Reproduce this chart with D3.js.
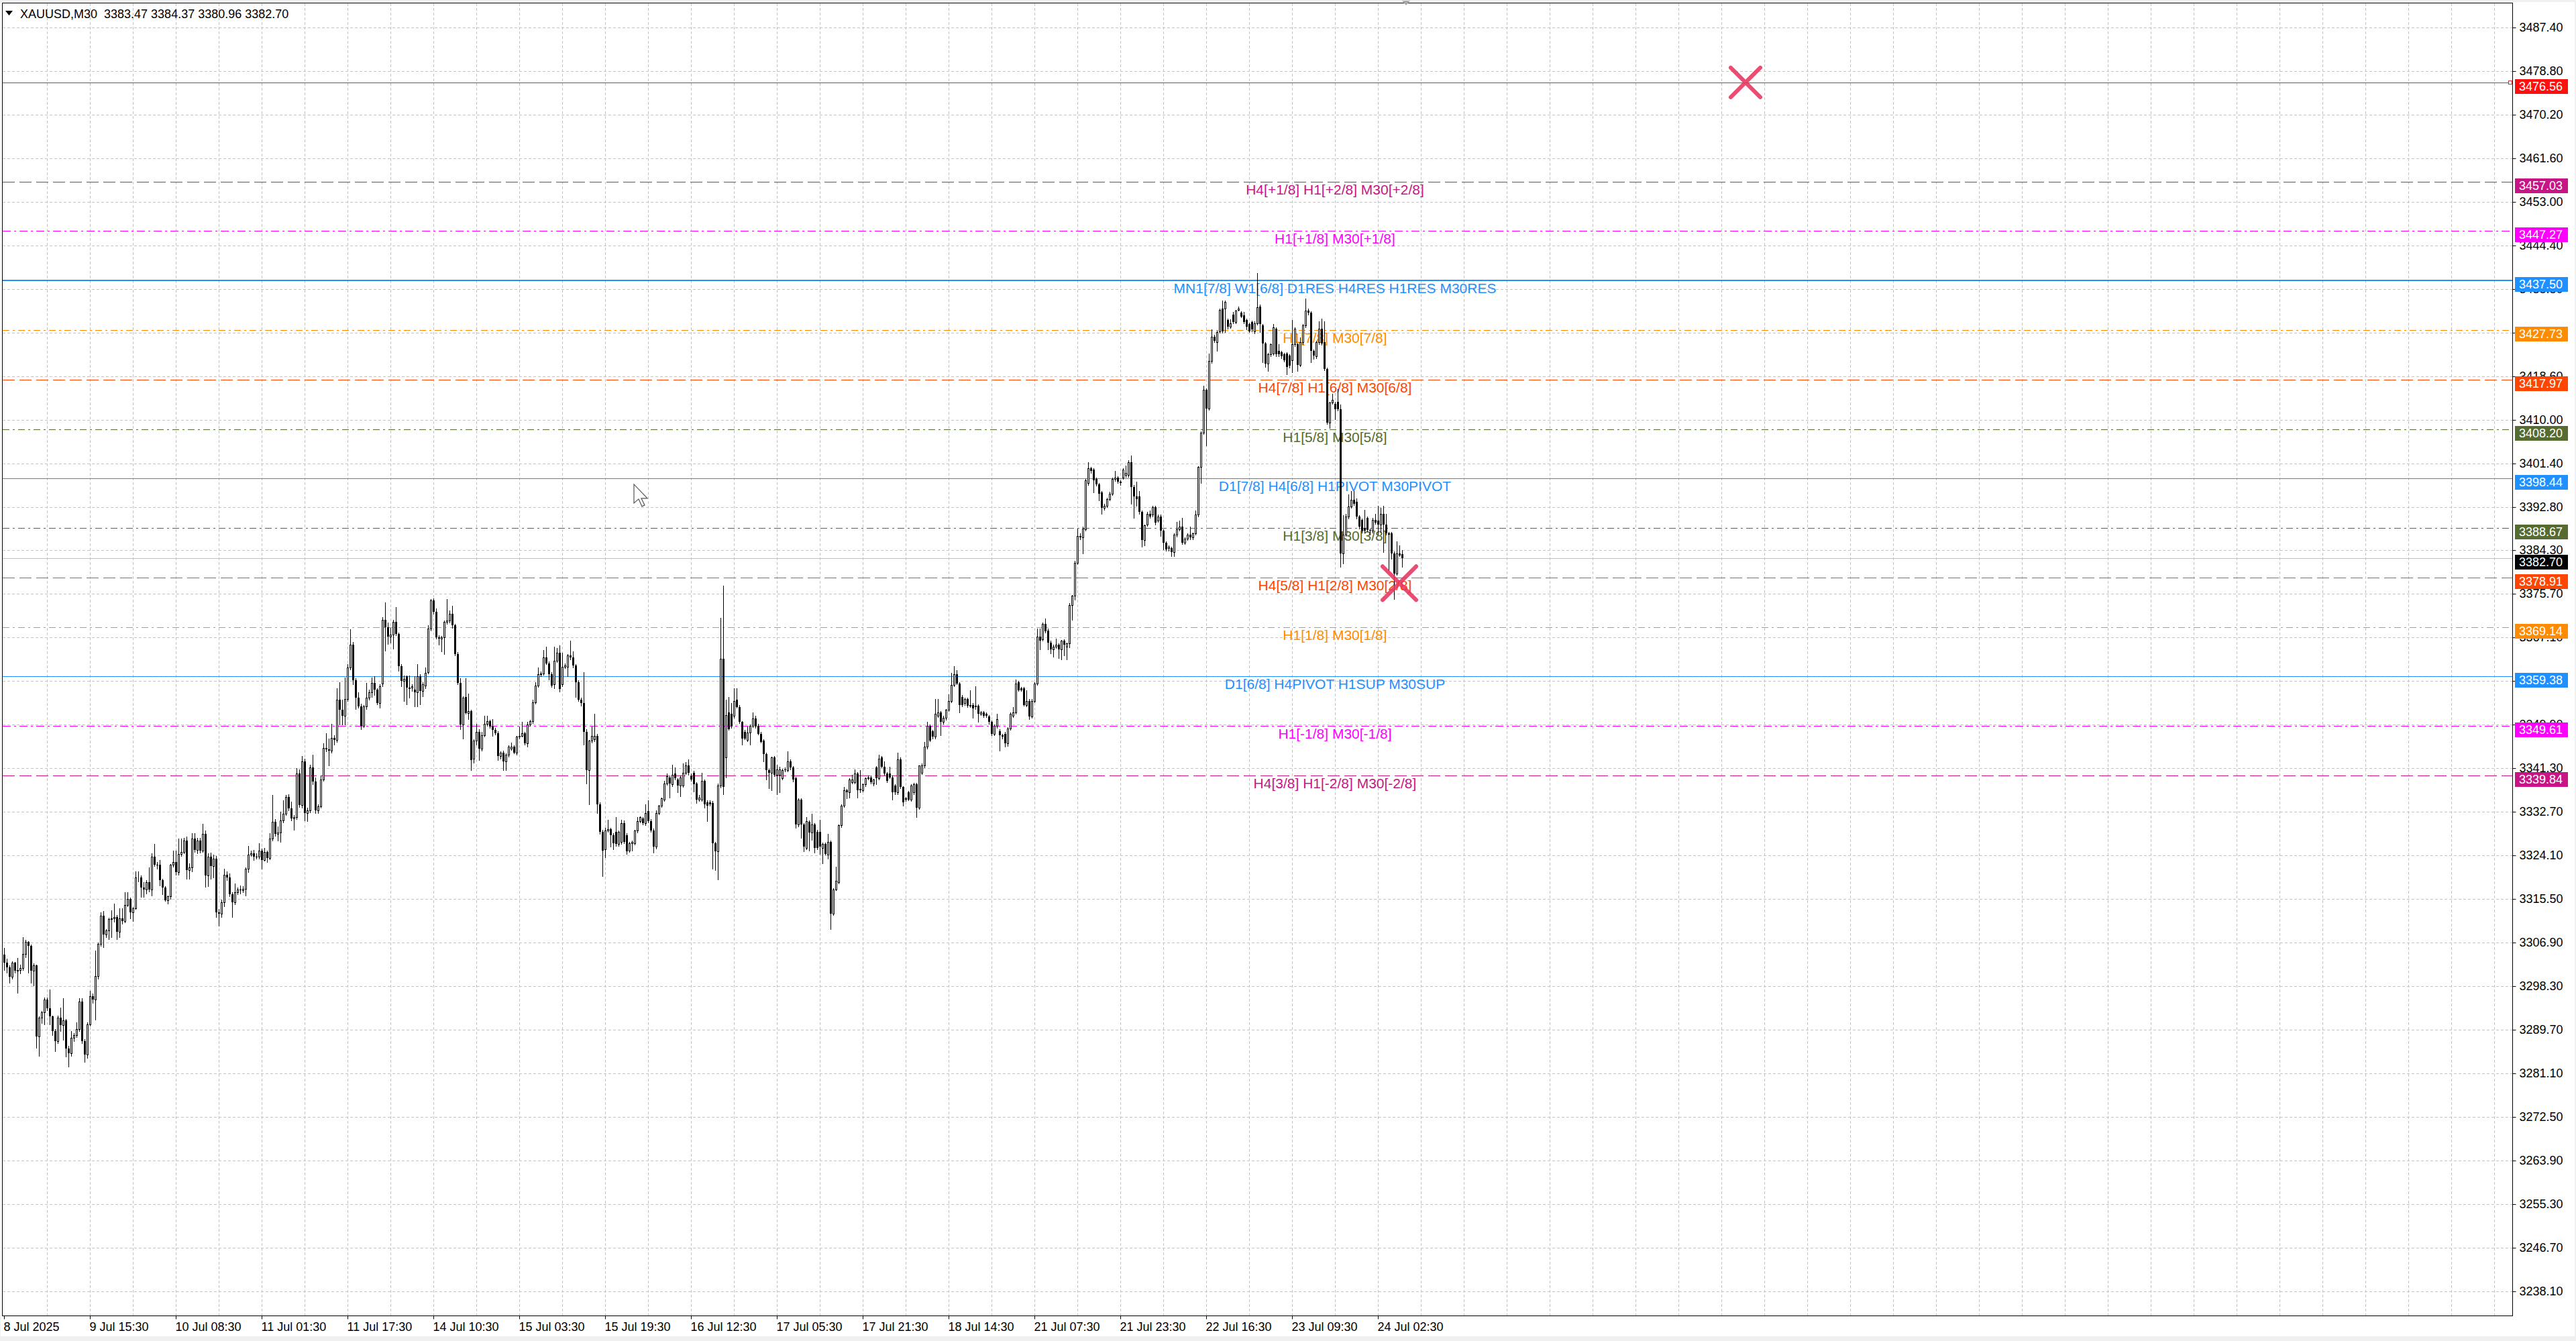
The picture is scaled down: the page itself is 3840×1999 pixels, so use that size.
<!DOCTYPE html>
<html>
<head>
<meta charset="utf-8">
<script src="https://cdn.jsdelivr.net/npm/d3@7"></script>
<style>
body { margin: 0; background: #f0f0f0; overflow: hidden; }
svg { display: block; }
</style>
</head>
<body>
<div id="chart"></div>
<script>
// chart header
let symbolTitle = "XAUUSD,M30  3383.47 3384.37 3380.96 3382.70";

// time axis labels, one every 32 bars (M30, gold has a daily break)
let timeLabels = ["8 Jul 2025", "9 Jul 15:30", "10 Jul 08:30", "11 Jul 01:30", "11 Jul 17:30", "14 Jul 10:30",
    "15 Jul 03:30", "15 Jul 19:30", "16 Jul 12:30", "17 Jul 05:30", "17 Jul 21:30", "18 Jul 14:30",
    "21 Jul 07:30", "21 Jul 23:30", "22 Jul 16:30", "23 Jul 09:30", "24 Jul 02:30"];
let barsPerLabel = 32;

// price axis labels
let priceTicks = [3487.40, 3478.80, 3470.20, 3461.60, 3453.00, 3444.40, 3435.80, 3427.20, 3418.60, 3410.00,
    3401.40, 3392.80, 3384.30, 3375.70, 3367.10, 3358.50, 3349.90, 3341.30, 3332.70, 3324.10, 3315.50,
    3306.90, 3298.30, 3289.70, 3281.10, 3272.50, 3263.90, 3255.30, 3246.70, 3238.10];

// murrey / pivot levels
let levelPrices = [3476.56, 3457.03, 3447.27, 3437.50, 3427.73, 3417.97, 3408.20, 3398.44, 3388.67, 3378.91, 3369.14, 3359.38, 3349.61, 3339.84];
let levelTexts = ["", "H4[+1/8] H1[+2/8] M30[+2/8]", "H1[+1/8] M30[+1/8]", "MN1[7/8] W1[6/8] D1RES H4RES H1RES M30RES",
    "H1[7/8] M30[7/8]", "H4[7/8] H1[6/8] M30[6/8]", "H1[5/8] M30[5/8]", "D1[7/8] H4[6/8] H1PIVOT M30PIVOT",
    "H1[3/8] M30[3/8]", "H4[5/8] H1[2/8] M30[2/8]", "H1[1/8] M30[1/8]", "D1[6/8] H4PIVOT H1SUP M30SUP",
    "H1[-1/8] M30[-1/8]", "H4[3/8] H1[-2/8] M30[-2/8]"];
let levelKinds = ["alert", "outer", "plus", "major", "eighth7", "eighth6", "eighth5", "pivot", "eighth5", "eighth6", "eighth7", "pivot", "plus", "outer"];
let levelTextBar = 496;
let lastPrice = 3382.70;

// markers: [bar, price]
let crossMarks = [[649, 3476.56], [520, 3377.8]];
let cursorAt = [234.75, 3397.3];

// candles: [open, high, low, close]
let ohlc = [
[3304.5,3305.8,3301.5,3302.9],[3302.9,3303.7,3300.9,3302.0],[3302.0,3302.4,3299.0,3300.1],[3300.1,3303.2,3299.8,3302.9],
[3302.9,3303.1,3301.0,3301.3],[3301.3,3303.8,3297.0,3301.5],[3301.5,3302.6,3300.8,3301.9],[3301.9,3308.0,3301.5,3304.7],
[3304.7,3307.5,3304.0,3307.1],[3307.1,3307.2,3300.9,3306.2],[3306.2,3306.5,3299.0,3301.4],[3301.4,3302.8,3298.5,3302.4],
[3302.4,3302.6,3286.2,3288.4],[3288.4,3292.3,3284.6,3292.1],[3292.1,3293.4,3291.0,3293.2],[3293.2,3296.1,3290.8,3295.6],
[3295.6,3296.0,3293.5,3293.9],[3293.9,3297.6,3290.8,3292.3],[3292.3,3292.5,3288.6,3289.4],[3289.4,3289.8,3285.5,3287.4],
[3287.4,3292.5,3287.0,3292.1],[3292.1,3294.1,3289.5,3290.6],[3290.6,3295.9,3287.7,3291.5],[3291.5,3291.8,3284.4,3286.0],
[3286.0,3286.5,3282.4,3285.1],[3285.1,3289.5,3284.6,3288.1],[3288.1,3289.0,3287.5,3288.7],[3288.7,3291.2,3288.3,3289.8],
[3289.8,3295.9,3289.5,3295.2],[3295.2,3295.9,3287.0,3287.5],[3287.5,3287.9,3283.3,3284.8],[3284.8,3291.2,3284.2,3290.8],
[3290.8,3297.4,3290.5,3296.3],[3296.3,3296.8,3295.0,3295.6],[3295.6,3305.3,3291.7,3300.3],[3300.3,3306.9,3299.8,3306.7],
[3306.7,3312.8,3306.2,3312.2],[3312.2,3313.1,3306.0,3308.5],[3308.5,3309.6,3308.0,3309.3],[3309.3,3311.8,3307.6,3311.5],
[3311.5,3313.3,3308.0,3311.7],[3311.7,3314.6,3311.0,3312.0],[3312.0,3312.3,3307.6,3309.0],[3309.0,3313.7,3308.0,3311.7],
[3311.7,3313.7,3310.6,3311.1],[3311.1,3316.8,3310.9,3314.3],[3314.3,3316.8,3314.0,3315.5],[3315.5,3315.8,3311.7,3312.8],
[3312.8,3313.9,3311.1,3313.7],[3313.7,3321.0,3313.5,3319.7],[3319.7,3321.0,3319.0,3319.8],[3319.8,3320.1,3315.9,3317.7],
[3317.7,3318.8,3315.9,3317.3],[3317.3,3319.2,3316.6,3318.8],[3318.8,3321.7,3316.9,3317.3],[3317.3,3324.5,3316.2,3323.9],
[3323.9,3326.3,3322.0,3322.3],[3322.3,3322.8,3321.5,3322.2],[3322.2,3323.2,3318.1,3319.2],[3319.2,3319.5,3316.4,3317.8],
[3317.8,3318.0,3315.1,3315.3],[3315.3,3316.2,3314.6,3316.0],[3316.0,3322.4,3315.5,3322.2],[3322.2,3325.0,3321.8,3322.8],
[3322.8,3325.0,3320.3,3320.8],[3320.8,3327.4,3320.3,3324.4],[3324.4,3327.4,3324.0,3324.8],[3324.8,3327.5,3324.5,3327.0],
[3327.0,3327.8,3319.5,3321.2],[3321.2,3322.5,3319.5,3321.7],[3321.7,3328.5,3321.0,3327.4],[3327.4,3328.5,3324.8,3325.2],
[3325.2,3327.6,3324.5,3327.0],[3327.0,3327.5,3324.6,3325.0],[3325.0,3330.3,3324.8,3328.3],[3328.3,3329.0,3317.9,3320.1],
[3320.1,3324.5,3318.0,3323.9],[3323.9,3324.6,3319.5,3322.0],[3322.0,3324.2,3319.8,3323.5],[3323.5,3324.0,3312.0,3312.8],
[3312.8,3313.5,3310.2,3312.6],[3312.6,3315.4,3312.0,3314.8],[3314.8,3321.4,3314.0,3320.3],[3320.3,3321.0,3319.2,3319.7],
[3319.7,3320.5,3316.0,3316.4],[3316.4,3316.8,3312.0,3314.8],[3314.8,3318.6,3314.4,3316.8],[3316.8,3317.8,3316.5,3317.3],
[3317.3,3318.2,3316.6,3317.2],[3317.2,3318.0,3316.8,3317.5],[3317.5,3321.7,3316.2,3321.5],[3321.5,3325.9,3320.8,3324.3],
[3324.3,3325.0,3324.0,3324.5],[3324.5,3325.2,3323.2,3323.9],[3323.9,3324.5,3323.4,3323.8],[3323.8,3326.5,3323.5,3325.0],
[3325.0,3325.5,3321.4,3323.2],[3323.2,3325.6,3323.0,3324.8],[3324.8,3325.0,3322.8,3323.6],[3323.6,3328.5,3323.3,3327.4],
[3327.4,3336.0,3327.0,3330.7],[3330.7,3331.2,3328.0,3328.3],[3328.3,3329.8,3327.0,3328.6],[3328.6,3332.7,3326.8,3331.0],
[3331.0,3334.9,3330.6,3332.3],[3332.3,3336.0,3332.0,3335.6],[3335.6,3336.1,3333.0,3333.4],[3333.4,3334.7,3331.0,3331.4],
[3331.4,3332.0,3329.2,3331.6],[3331.6,3341.3,3331.2,3340.2],[3340.2,3341.0,3333.6,3334.0],[3334.0,3343.7,3333.5,3342.6],
[3342.6,3343.2,3331.0,3332.5],[3332.5,3333.5,3330.9,3333.0],[3333.0,3342.0,3332.6,3341.5],[3341.5,3344.0,3338.2,3338.7],
[3338.7,3339.5,3332.5,3333.0],[3333.0,3334.2,3332.5,3333.8],[3333.8,3339.8,3333.5,3339.1],[3339.1,3346.2,3338.8,3345.3],
[3345.3,3348.2,3344.6,3345.0],[3345.0,3347.1,3341.8,3344.8],[3344.8,3350.1,3344.4,3347.3],[3347.3,3347.8,3346.0,3346.9],
[3346.9,3357.0,3346.5,3354.8],[3354.8,3358.3,3349.9,3352.8],[3352.8,3354.8,3349.9,3351.7],[3351.7,3359.2,3349.9,3355.0],
[3355.0,3361.8,3354.5,3361.2],[3361.2,3368.7,3360.8,3365.6],[3365.6,3366.2,3357.9,3358.7],[3358.7,3359.0,3353.0,3355.2],
[3355.2,3356.3,3353.2,3353.5],[3353.5,3354.0,3349.0,3349.7],[3349.7,3353.8,3349.4,3353.5],[3353.5,3358.1,3353.0,3355.2],
[3355.2,3356.8,3354.8,3356.3],[3356.3,3359.2,3355.4,3358.1],[3358.1,3359.4,3355.7,3356.8],[3356.8,3357.0,3353.9,3354.1],
[3354.1,3357.8,3353.2,3357.4],[3358.0,3371.1,3357.5,3370.6],[3370.6,3374.0,3364.5,3369.1],[3369.1,3370.0,3365.8,3367.3],
[3367.3,3369.0,3366.0,3367.6],[3367.6,3370.6,3364.9,3370.2],[3370.2,3373.1,3367.5,3367.8],[3367.8,3368.0,3360.5,3361.4],
[3361.4,3361.8,3357.4,3358.5],[3358.5,3359.6,3354.6,3358.9],[3359.4,3359.6,3353.9,3357.2],[3357.0,3359.6,3355.2,3357.2],
[3357.2,3357.8,3356.5,3357.4],[3356.8,3359.4,3353.5,3356.3],[3356.3,3361.8,3353.5,3359.4],[3359.4,3359.8,3353.9,3356.5],
[3356.5,3358.2,3355.5,3357.9],[3357.6,3361.2,3357.0,3360.1],[3360.3,3369.5,3360.0,3368.9],[3368.9,3374.6,3368.5,3374.4],
[3374.4,3374.8,3371.8,3372.2],[3372.2,3372.8,3366.8,3367.1],[3367.1,3367.5,3365.6,3366.9],[3366.9,3367.4,3364.3,3367.1],
[3367.1,3370.4,3363.8,3370.2],[3370.2,3374.6,3369.8,3370.4],[3370.4,3372.4,3370.0,3371.8],[3371.8,3373.3,3369.0,3369.5],
[3369.5,3369.8,3363.5,3363.8],[3363.8,3364.2,3357.8,3358.1],[3358.1,3359.0,3349.0,3349.9],[3349.9,3355.5,3347.1,3355.2],
[3355.4,3359.0,3352.0,3352.1],[3352.1,3356.0,3351.0,3352.5],[3352.5,3352.8,3340.9,3342.9],[3343.1,3347.0,3342.4,3346.8],
[3346.8,3350.0,3346.0,3348.4],[3348.4,3349.0,3342.9,3345.1],[3345.1,3348.4,3344.8,3347.8],[3347.8,3351.7,3347.5,3350.1],
[3350.1,3351.7,3349.6,3350.6],[3350.6,3350.8,3349.3,3349.5],[3349.5,3351.0,3347.7,3348.8],[3348.8,3349.2,3347.9,3348.2],
[3348.2,3348.6,3342.9,3343.7],[3343.7,3344.6,3343.2,3344.4],[3344.4,3344.8,3340.9,3342.6],[3342.6,3344.2,3340.9,3344.0],
[3344.0,3345.8,3343.6,3345.5],[3345.1,3346.4,3344.9,3345.5],[3345.5,3345.8,3344.2,3344.4],[3344.4,3347.7,3344.0,3347.5],
[3347.5,3349.5,3347.2,3347.7],[3347.7,3350.4,3347.5,3348.2],[3348.2,3348.5,3346.0,3346.2],[3346.2,3350.4,3345.5,3349.9],
[3349.9,3350.8,3349.6,3350.6],[3350.6,3354.8,3350.2,3354.3],[3354.3,3358.3,3354.0,3357.6],[3357.6,3361.1,3357.3,3359.9],
[3359.9,3360.4,3359.5,3360.0],[3360.0,3364.6,3359.7,3363.2],[3363.2,3365.3,3361.8,3362.0],[3362.0,3362.3,3358.8,3359.9],
[3359.9,3360.2,3357.3,3357.6],[3357.8,3365.3,3357.1,3362.5],[3362.5,3365.0,3362.2,3364.1],[3364.1,3365.5,3356.4,3356.9],
[3357.8,3364.1,3357.5,3361.3],[3361.3,3361.9,3361.0,3361.5],[3361.3,3363.8,3359.5,3363.6],[3363.6,3366.4,3362.8,3363.2],
[3363.2,3364.3,3361.2,3361.5],[3361.5,3361.8,3355.3,3358.3],[3358.3,3358.6,3354.5,3354.8],[3354.8,3355.2,3353.6,3354.1],
[3354.1,3360.2,3346.0,3348.5],[3348.5,3349.0,3338.3,3340.9],[3340.9,3346.9,3334.2,3346.7],[3346.7,3349.5,3346.4,3347.6],
[3347.0,3352.0,3346.6,3347.6],[3347.6,3348.0,3332.5,3334.2],[3334.2,3334.6,3328.3,3328.8],[3328.8,3329.2,3320.0,3325.1],
[3325.3,3329.5,3323.7,3329.0],[3329.0,3331.1,3328.7,3329.3],[3329.3,3329.5,3325.8,3328.1],[3328.1,3328.5,3325.3,3326.5],
[3328.8,3331.6,3326.0,3326.3],[3326.3,3329.0,3326.0,3328.8],[3326.7,3331.1,3326.4,3330.4],[3330.4,3331.0,3326.5,3326.7],
[3328.1,3328.5,3324.4,3324.9],[3325.0,3326.7,3324.8,3326.5],[3326.5,3327.0,3325.1,3326.7],[3326.5,3329.2,3326.2,3329.0],
[3329.0,3331.6,3328.6,3330.9],[3330.9,3331.8,3330.6,3331.6],[3331.4,3331.7,3330.2,3330.4],[3330.4,3334.2,3330.0,3332.5],
[3332.8,3334.9,3330.6,3330.9],[3330.9,3331.2,3328.8,3329.0],[3329.0,3329.4,3324.6,3325.8],[3325.8,3333.0,3325.5,3332.5],
[3332.5,3334.1,3332.2,3333.9],[3333.9,3335.5,3333.6,3335.3],[3335.1,3338.8,3334.8,3338.3],[3338.3,3340.2,3338.0,3339.7],
[3339.5,3339.9,3335.5,3338.3],[3338.1,3342.0,3337.8,3340.0],[3340.2,3341.4,3339.0,3339.3],[3339.0,3339.3,3336.5,3337.9],
[3337.9,3339.8,3335.8,3339.5],[3337.9,3342.3,3337.6,3340.4],[3340.4,3342.5,3340.1,3341.8],[3341.8,3343.0,3340.0,3340.4],
[3339.7,3340.2,3338.8,3339.0],[3340.4,3340.8,3336.7,3338.1],[3338.3,3338.6,3334.4,3335.1],[3335.1,3336.0,3334.8,3335.5],
[3335.1,3340.4,3334.8,3338.8],[3338.8,3339.1,3333.5,3334.2],[3334.6,3335.0,3330.9,3333.9],[3334.6,3334.9,3333.9,3334.2],
[3334.4,3334.8,3321.4,3326.5],[3326.5,3326.8,3321.2,3324.9],[3324.9,3338.3,3319.3,3337.9],[3337.9,3371.0,3337.5,3362.9],
[3362.9,3377.3,3336.2,3337.6],[3343.4,3354.8,3339.5,3351.8],[3352.3,3355.3,3348.8,3349.0],[3352.0,3354.1,3349.2,3349.5],
[3351.6,3357.1,3351.3,3354.6],[3354.8,3357.1,3353.2,3353.4],[3353.4,3353.7,3350.2,3350.4],[3350.4,3350.6,3346.0,3347.2],
[3348.5,3348.8,3347.0,3347.2],[3346.9,3349.5,3346.6,3348.3],[3348.3,3349.9,3346.0,3349.7],[3349.7,3352.3,3349.4,3351.1],
[3351.1,3351.6,3349.3,3349.5],[3349.7,3350.0,3347.9,3348.1],[3348.1,3348.4,3346.3,3346.5],[3346.7,3347.0,3342.7,3344.1],
[3344.1,3344.4,3339.0,3340.9],[3340.9,3341.2,3337.4,3340.4],[3340.4,3343.6,3337.0,3343.4],[3343.4,3343.7,3339.7,3340.0],
[3340.0,3342.0,3336.2,3341.1],[3340.0,3341.6,3336.5,3341.1],[3339.3,3341.2,3339.0,3340.9],[3341.1,3341.5,3340.6,3340.9],
[3340.9,3344.6,3340.6,3342.7],[3342.7,3343.0,3341.1,3341.4],[3341.4,3341.7,3338.7,3339.0],[3339.3,3339.6,3329.5,3330.2],
[3330.2,3335.3,3329.8,3335.1],[3335.1,3335.4,3327.6,3330.2],[3330.2,3330.4,3324.9,3325.8],[3325.6,3331.6,3325.3,3330.9],
[3330.7,3331.0,3325.1,3328.6],[3328.6,3332.3,3327.2,3330.2],[3330.2,3330.5,3324.6,3325.6],[3328.8,3329.1,3325.3,3325.6],
[3328.8,3331.1,3324.4,3325.8],[3325.6,3326.6,3322.5,3326.3],[3326.3,3326.6,3324.2,3324.4],[3324.2,3328.3,3323.5,3326.7],
[3326.7,3327.0,3309.5,3312.6],[3312.6,3317.6,3312.3,3317.4],[3317.4,3321.9,3317.2,3319.1],[3318.8,3330.2,3318.5,3330.0],
[3330.0,3334.2,3329.7,3333.9],[3333.9,3337.6,3333.6,3336.9],[3336.9,3337.2,3335.3,3336.5],[3336.5,3339.3,3335.5,3339.0],
[3338.6,3340.0,3338.3,3339.0],[3338.6,3341.1,3338.3,3340.2],[3340.2,3340.5,3335.5,3337.0],[3337.2,3340.9,3336.5,3337.0],
[3337.0,3338.3,3336.7,3338.1],[3338.1,3339.5,3337.8,3339.3],[3339.3,3339.8,3339.0,3339.5],[3339.5,3339.8,3338.3,3338.6],
[3338.3,3339.2,3337.9,3339.0],[3341.4,3341.7,3338.1,3339.3],[3339.3,3343.9,3339.0,3343.2],[3343.4,3343.7,3341.5,3341.6],
[3341.6,3342.7,3340.0,3340.2],[3340.2,3340.5,3338.6,3338.8],[3340.2,3341.6,3339.3,3339.5],[3339.5,3339.8,3335.1,3336.5],
[3337.9,3338.2,3336.2,3336.5],[3336.5,3344.4,3336.2,3343.0],[3343.0,3343.4,3337.4,3337.6],[3337.6,3337.8,3333.9,3334.6],
[3335.3,3335.6,3334.8,3335.1],[3336.5,3336.8,3334.9,3335.1],[3335.1,3338.2,3334.8,3337.9],[3336.5,3338.4,3336.2,3338.1],
[3338.1,3338.4,3331.6,3333.5],[3333.5,3341.9,3333.2,3341.8],[3340.4,3342.2,3340.1,3341.8],[3341.8,3346.5,3341.5,3345.5],
[3345.5,3350.4,3345.2,3349.6],[3349.6,3349.9,3346.6,3346.8],[3348.6,3348.9,3347.2,3347.5],[3347.5,3354.9,3347.2,3352.0],
[3351.7,3354.9,3351.4,3352.3],[3352.3,3352.6,3347.8,3350.4],[3350.4,3351.6,3350.0,3351.2],[3351.2,3353.0,3350.9,3352.8],
[3352.8,3355.9,3352.5,3354.6],[3354.6,3360.1,3354.3,3357.7],[3357.7,3361.4,3357.4,3359.9],[3359.9,3360.6,3357.8,3358.0],
[3358.0,3358.3,3352.3,3353.8],[3355.4,3355.7,3353.5,3353.8],[3354.1,3355.2,3353.8,3354.9],[3354.9,3355.2,3353.3,3353.6],
[3353.6,3356.7,3353.3,3353.8],[3353.8,3354.1,3351.2,3353.1],[3353.6,3357.5,3353.0,3353.3],[3353.6,3353.9,3350.4,3352.0],
[3352.0,3352.6,3351.8,3352.3],[3352.3,3352.6,3351.4,3351.7],[3352.0,3352.3,3351.4,3351.7],[3351.5,3351.8,3350.1,3350.4],
[3350.4,3350.7,3347.8,3348.1],[3348.1,3349.9,3347.8,3349.6],[3349.6,3352.0,3349.3,3351.0],[3348.6,3349.0,3344.7,3347.8],
[3347.8,3348.1,3347.2,3347.5],[3348.1,3348.4,3345.5,3346.2],[3346.2,3349.4,3345.7,3349.1],[3349.1,3352.3,3348.8,3352.0],
[3351.7,3353.3,3351.4,3352.3],[3352.3,3358.8,3352.0,3358.0],[3358.3,3358.5,3356.5,3356.7],[3357.0,3357.3,3356.5,3356.7],
[3357.0,3357.3,3353.6,3353.8],[3353.8,3356.7,3353.5,3354.6],[3354.6,3354.9,3351.0,3351.5],[3351.5,3354.9,3351.2,3354.6],
[3354.6,3358.3,3354.3,3358.0],[3358.0,3368.8,3357.7,3367.2],[3367.2,3368.8,3364.8,3366.4],[3366.7,3370.0,3366.4,3369.8],
[3369.8,3370.8,3368.0,3368.3],[3368.5,3368.8,3364.8,3366.1],[3366.1,3366.4,3364.0,3364.8],[3364.8,3365.6,3363.3,3365.3],
[3365.3,3366.9,3365.0,3365.6],[3365.6,3365.9,3363.0,3364.8],[3364.8,3366.6,3362.7,3366.4],[3366.4,3366.7,3363.5,3365.6],
[3365.3,3366.1,3362.7,3365.9],[3365.9,3373.8,3365.1,3373.5],[3373.5,3375.5,3370.6,3375.3],[3375.3,3382.2,3374.5,3381.8],
[3381.8,3388.6,3381.5,3387.1],[3387.1,3387.6,3386.5,3386.8],[3386.8,3389.0,3383.7,3388.6],[3388.4,3398.3,3388.1,3398.1],
[3397.5,3401.7,3397.2,3400.4],[3400.4,3400.7,3399.6,3399.9],[3400.2,3400.5,3395.7,3398.1],[3398.3,3398.6,3397.0,3397.3],
[3397.3,3397.6,3394.1,3395.5],[3395.7,3396.0,3391.5,3392.6],[3392.6,3393.4,3392.3,3393.1],[3393.1,3394.6,3392.8,3394.4],
[3394.4,3395.8,3394.1,3395.5],[3395.5,3398.6,3395.2,3398.3],[3398.3,3399.9,3398.0,3398.6],[3398.6,3398.9,3397.5,3397.8],
[3397.8,3398.1,3397.2,3397.5],[3398.6,3400.5,3398.3,3400.2],[3399.1,3401.0,3398.8,3399.6],[3399.1,3402.0,3398.8,3401.7],
[3401.7,3403.0,3393.4,3396.8],[3396.8,3397.1,3390.7,3394.9],[3394.9,3397.8,3393.1,3394.4],[3394.9,3396.0,3391.5,3391.8],
[3391.8,3392.1,3385.0,3386.3],[3386.3,3389.4,3385.2,3389.2],[3389.4,3391.8,3389.1,3391.5],[3391.5,3392.1,3390.7,3391.0],
[3391.3,3393.1,3391.0,3392.8],[3392.8,3393.1,3389.4,3389.7],[3390.2,3391.3,3389.9,3391.0],[3391.0,3391.3,3387.1,3388.1],
[3388.1,3388.4,3384.5,3385.8],[3385.8,3386.1,3384.2,3384.5],[3384.7,3385.2,3384.2,3385.0],[3384.7,3385.0,3383.1,3383.9],
[3383.9,3387.6,3383.1,3387.3],[3387.3,3389.9,3387.0,3388.4],[3388.4,3390.2,3388.1,3388.9],[3388.9,3390.7,3385.5,3385.8],
[3385.8,3386.8,3385.5,3386.6],[3386.6,3387.6,3386.3,3387.3],[3387.3,3388.9,3386.5,3386.8],[3386.8,3387.8,3386.5,3387.6],
[3387.6,3392.1,3387.3,3391.3],[3391.3,3400.9,3391.0,3400.7],[3400.7,3407.8,3397.5,3407.5],[3407.5,3416.7,3407.2,3415.9],
[3415.9,3416.2,3405.0,3412.3],[3412.3,3423.1,3412.0,3421.6],[3421.6,3427.8,3421.3,3426.4],[3426.4,3426.8,3425.3,3425.6],
[3425.3,3427.6,3423.6,3427.3],[3427.5,3432.0,3427.2,3431.7],[3431.9,3433.5,3427.2,3427.5],[3431.9,3433.6,3427.3,3433.3],
[3429.7,3430.0,3428.0,3428.4],[3428.4,3429.9,3428.1,3429.1],[3430.8,3431.3,3429.1,3429.3],[3429.3,3431.7,3429.0,3431.5],
[3431.7,3432.4,3431.5,3431.9],[3431.1,3431.4,3430.2,3430.4],[3430.6,3431.3,3429.1,3429.3],[3429.7,3430.0,3427.8,3428.4],
[3428.9,3429.2,3427.3,3427.5],[3429.3,3429.6,3427.5,3427.8],[3427.5,3429.4,3427.1,3429.1],[3429.1,3439.0,3428.8,3432.2],
[3432.4,3432.8,3427.3,3428.9],[3428.6,3428.9,3421.4,3425.1],[3425.1,3425.4,3420.5,3421.1],[3421.1,3423.2,3419.6,3422.9],
[3422.9,3425.1,3422.6,3424.9],[3423.1,3428.9,3422.8,3428.2],[3428.0,3428.3,3422.6,3422.9],[3423.6,3424.9,3422.6,3422.9],
[3423.3,3423.6,3422.2,3422.5],[3422.9,3423.2,3421.5,3421.8],[3423.1,3423.4,3419.0,3420.5],[3422.7,3423.0,3420.3,3420.7],
[3421.8,3429.7,3419.4,3424.9],[3424.9,3428.3,3424.6,3428.0],[3424.9,3425.2,3419.6,3420.9],[3420.9,3426.2,3420.6,3425.3],
[3425.3,3428.9,3425.0,3428.6],[3428.6,3433.9,3428.3,3431.5],[3431.5,3431.9,3430.8,3431.1],[3431.1,3431.4,3421.4,3423.6],
[3423.6,3423.9,3422.0,3422.7],[3422.5,3425.6,3422.2,3425.3],[3425.3,3429.5,3425.0,3428.0],[3428.0,3430.0,3424.8,3425.1],
[3425.3,3429.5,3419.8,3420.0],[3420.0,3420.3,3409.2,3409.5],[3409.5,3413.6,3408.4,3413.4],[3413.4,3415.2,3413.1,3413.9],
[3413.2,3413.5,3410.1,3412.1],[3413.6,3416.1,3411.8,3412.1],[3412.1,3413.0,3381.0,3383.7],[3383.7,3391.2,3381.7,3387.4],
[3387.4,3391.5,3387.1,3390.9],[3390.9,3395.3,3390.6,3392.9],[3392.9,3396.0,3392.6,3394.2],[3394.2,3396.0,3393.2,3393.4],
[3393.8,3394.5,3390.6,3390.9],[3390.9,3391.2,3388.5,3388.9],[3390.3,3390.6,3387.8,3388.1],[3388.7,3392.3,3387.9,3388.1],
[3390.7,3391.0,3388.0,3388.3],[3388.3,3388.5,3387.4,3388.1],[3388.1,3390.7,3387.8,3390.3],[3390.3,3391.4,3389.5,3389.8],
[3390.1,3393.1,3387.4,3389.4],[3389.4,3392.7,3387.9,3391.4],[3391.4,3393.1,3383.9,3389.4],[3389.4,3391.4,3387.3,3387.6],
[3387.6,3387.9,3380.4,3387.4],[3387.6,3387.9,3382.6,3383.7],[3383.7,3384.0,3374.6,3379.7],[3379.7,3386.1,3379.4,3383.7],
[3383.7,3385.2,3383.1,3383.3],[3383.47,3384.37,3380.96,3382.70]
];

// styles for each level kind
let levelStyle = {
    alert:   {color: "#D42A2A", box: "#FF1010", dash: null, width: 1},
    outer:   {color: "#C71585", box: "#C71585", dash: "18,7", width: 1},
    plus:    {color: "#FF00FF", box: "#FF00FF", dash: "12,5,3,5", width: 1},
    major:   {color: "#1E90FF", box: "#1E90FF", dash: null, width: 2},
    eighth7: {color: "#FF8C00", box: "#FF8C00", dash: "10,5,3,5", width: 1},
    eighth6: {color: "#FF4500", box: "#FF4500", dash: "18,7", width: 1},
    eighth5: {color: "#556B2F", box: "#556B2F", dash: "10,5,3,5", width: 1},
    pivot:   {color: "#1E90FF", box: "#1E90FF", dash: null, width: 1}
};

let font = "'Liberation Sans', Arial, sans-serif";
let width = 3840, height = 1999;
let plot = {left: 4, right: 3745, top: 5, bottom: 1961};

let svg = d3.select("#chart").append("svg")
    .attr("width", width)
    .attr("height", height)
    .attr("font-family", font);

svg.append("rect").attr("width", width).attr("height", height).attr("fill", "#f0f0f0");
svg.append("rect").attr("x", 1).attr("y", 3).attr("width", width - 3).attr("height", 1989).attr("fill", "#ffffff");

// 4 px per bar, bar 0 sits on the first label
let x = d3.scaleLinear().domain([0, 934.75]).range([6, 3745]);
let y = d3.scaleLinear().domain([3487.4, 3238.1]).range([41, 1925]);
let px = v => Math.round(v) + 0.5;

// grid
let grid = svg.append("g").attr("stroke", "#c4c4c4").attr("stroke-dasharray", "4,3").attr("stroke-width", 1);
grid.selectAll(".gy").data(priceTicks).enter().append("line")
    .attr("x1", plot.left).attr("x2", plot.right)
    .attr("y1", d => px(y(d))).attr("y2", d => px(y(d)));
grid.selectAll(".gx").data(d3.range(16, 935, 16)).enter().append("line")
    .attr("x1", d => px(x(d))).attr("x2", d => px(x(d)))
    .attr("y1", plot.top).attr("y2", plot.bottom);

// level lines
let levels = levelPrices.map((p, i) => ({price: p, text: levelTexts[i], style: levelStyle[levelKinds[i]]}));
svg.append("g").selectAll("line").data(levels).enter().append("line")
    .attr("x1", plot.left).attr("x2", plot.right)
    .attr("y1", d => d.style.width === 2 ? Math.round(y(d.price)) : px(y(d.price)))
    .attr("y2", d => d.style.width === 2 ? Math.round(y(d.price)) : px(y(d.price)))
    .attr("stroke", d => d.style.color)
    .attr("stroke-width", d => d.style.width)
    .attr("stroke-dasharray", d => d.style.dash);

// current price line
svg.append("line")
    .attr("x1", plot.left).attr("x2", plot.right)
    .attr("y1", px(y(lastPrice))).attr("y2", px(y(lastPrice)))
    .attr("stroke", "#c0c0c0").attr("stroke-width", 1);

// level captions
svg.append("g").selectAll("text").data(levels.filter(d => d.text)).enter().append("text")
    .attr("x", x(levelTextBar))
    .attr("y", d => y(d.price) + 19)
    .attr("text-anchor", "middle")
    .attr("font-size", 21)
    .attr("fill", d => d.style.color)
    .text(d => d.text);

// candles
svg.append("clipPath").attr("id", "plotclip").append("rect")
    .attr("x", plot.left).attr("y", plot.top)
    .attr("width", plot.right - plot.left).attr("height", plot.bottom - plot.top);
let candles = svg.append("g").attr("clip-path", "url(#plotclip)");
let bars = candles.selectAll(".bar").data(ohlc).enter().append("g").attr("class", "bar");
bars.append("line")
    .attr("x1", (d, i) => Math.round(x(i)) + 0.5)
    .attr("x2", (d, i) => Math.round(x(i)) + 0.5)
    .attr("y1", d => Math.round(y(d[1])))
    .attr("y2", d => Math.round(y(d[2])) + 1)
    .attr("stroke", "#000").attr("stroke-width", 1);
bars.append("rect")
    .attr("x", (d, i) => d[3] >= d[0] ? Math.round(x(i)) - 0.5 : Math.round(x(i)) - 1)
    .attr("y", d => d[3] >= d[0] ? Math.round(y(d[3])) + 0.5 : Math.round(y(d[0])))
    .attr("width", d => d[3] >= d[0] ? 2 : 3)
    .attr("height", d => {
        let h = Math.round(y(Math.min(d[0], d[3]))) - Math.round(y(Math.max(d[0], d[3])));
        return d[3] >= d[0] ? Math.max(h, 0) : Math.max(h, 1);
    })
    .attr("fill", d => d[3] >= d[0] ? "#ffffff" : "#000000")
    .attr("stroke", d => d[3] >= d[0] ? "#000000" : "none")
    .attr("stroke-width", 1);

// cross markers
let cross = svg.append("g").attr("stroke", "#E8355E").attr("stroke-width", 6)
    .attr("stroke-linecap", "round").attr("opacity", 0.88);
crossMarks.forEach((m, k) => {
    let cx = x(m[0]), cy = y(m[1]), r = k === 0 ? 22 : 25;
    cross.append("line").attr("x1", cx - r).attr("y1", cy - r).attr("x2", cx + r).attr("y2", cy + r);
    cross.append("line").attr("x1", cx - r).attr("y1", cy + r).attr("x2", cx + r).attr("y2", cy - r);
});

// plot frame
svg.append("rect")
    .attr("x", plot.left - 0.5).attr("y", plot.top - 0.5)
    .attr("width", plot.right - plot.left + 1).attr("height", plot.bottom - plot.top + 1)
    .attr("fill", "none").attr("stroke", "#000").attr("stroke-width", 1);

// price axis
let yAxis = d3.axisRight(y).tickValues(priceTicks).tickFormat(d3.format(".2f")).tickSize(5).tickPadding(5);
svg.append("g").attr("transform", "translate(" + (plot.right + 0.5) + ",0)").call(yAxis)
    .attr("font-family", font).attr("font-size", 18)
    .call(g => g.select(".domain").remove())
    .call(g => g.selectAll("text").attr("fill", "#000"));

// time axis
let xAxis = d3.axisBottom(x).tickValues(timeLabels.map((d, i) => i * barsPerLabel))
    .tickFormat((d, i) => timeLabels[i]).tickSize(5).tickPadding(5);
svg.append("g").attr("transform", "translate(0," + (plot.bottom + 0.5) + ")").call(xAxis)
    .attr("font-family", font).attr("font-size", 18)
    .call(g => g.select(".domain").remove())
    .call(g => g.selectAll("text").attr("text-anchor", "start").attr("x", -1).attr("fill", "#000"));

// price boxes on the axis
let boxes = levels.map(d => ({price: d.price, box: d.style.box}));
boxes.push({price: lastPrice, box: "#000000"});
let tags = svg.append("g").selectAll("g").data(boxes).enter().append("g")
    .attr("transform", d => "translate(3749," + (Math.round(y(d.price)) - 5) + ")");
tags.append("rect").attr("width", 79).attr("height", 22).attr("fill", d => d.box);
tags.append("text").attr("x", 6).attr("y", 17).attr("font-size", 18).attr("fill", "#fff")
    .text(d => d3.format(".2f")(d.price));
// small handle at the end of the alert line
svg.append("rect").attr("x", plot.right - 5.5).attr("y", Math.round(y(levelPrices[0])) - 2.5)
    .attr("width", 5).attr("height", 5).attr("fill", "#fff").attr("stroke", "#D42A2A");

// title
svg.append("path").attr("d", "M8,16 L19,16 L13.5,23 Z").attr("fill", "#000");
svg.append("text").attr("x", 30).attr("y", 27).attr("font-size", 18).attr("fill", "#000")
    .style("white-space", "pre").text(symbolTitle);

// chart shift marker at the top edge
let shiftX = x(ohlc.length + 0.5);
svg.append("path").attr("d", "M" + (shiftX - 6) + ",1 L" + (shiftX + 6) + ",1 L" + shiftX + ",8 Z").attr("fill", "#a8a8a8");

// mouse pointer left in the screenshot
let cpx = x(cursorAt[0]), cpy = y(cursorAt[1]);
svg.append("path")
    .attr("d", "M0,0 L0,28 L7,22 L12,33 L16,31 L11,21 L20,21 Z")
    .attr("transform", "translate(" + cpx + "," + cpy + ")")
    .attr("fill", "#ffffff").attr("stroke", "#555").attr("stroke-width", 1.2);
</script>
</body>
</html>
